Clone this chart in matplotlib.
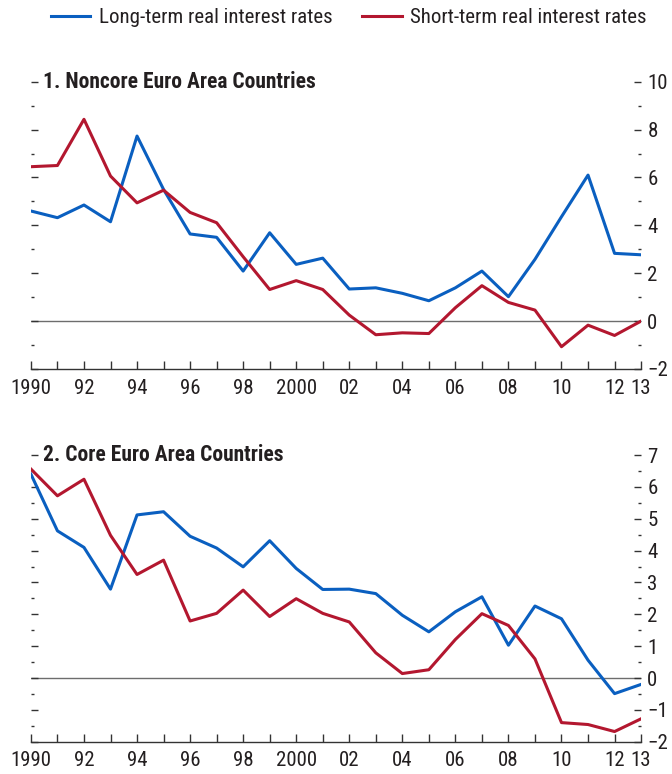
import matplotlib
matplotlib.use("Agg")
import matplotlib.pyplot as plt
from matplotlib.ticker import MultipleLocator, FixedLocator
from matplotlib.lines import Line2D

plt.rcParams['font.family'] = ['Roboto Condensed', 'Archivo Narrow', 'DejaVu Sans']
plt.rcParams['axes.unicode_minus'] = True

years = list(range(1990, 2014))
year_labels = ['1990', '', '92', '', '94', '', '96', '', '98', '', '2000', '',
               '02', '', '04', '', '06', '', '08', '', '10', '', '12', '13']

# Panel 1: Noncore euro area countries
noncore_long = [4.60, 4.32, 4.85, 4.15, 7.73, 5.50, 3.64, 3.50, 2.09, 3.69, 2.37, 2.63,
                1.34, 1.39, 1.16, 0.85, 1.39, 2.09, 1.02, 2.58, 4.36, 6.10, 2.83, 2.77]
noncore_short = [6.45, 6.50, 8.43, 6.06, 4.94, 5.47, 4.54, 4.11, 2.69, 1.32, 1.69, 1.32,
                 0.25, -0.57, -0.49, -0.52, 0.56, 1.48, 0.78, 0.46, -1.07, -0.17, -0.60, 0.00]

# Panel 2: Core euro area countries
core_long = [6.40, 4.62, 4.10, 2.79, 5.12, 5.22, 4.45, 4.08, 3.49, 4.31, 3.44, 2.78,
             2.79, 2.65, 1.97, 1.45, 2.08, 2.55, 1.03, 2.26, 1.86, 0.56, -0.49, -0.20]
core_short = [6.56, 5.72, 6.24, 4.48, 3.25, 3.70, 1.79, 2.03, 2.76, 1.93, 2.49, 2.03,
              1.76, 0.79, 0.14, 0.26, 1.21, 2.02, 1.65, 0.60, -1.40, -1.46, -1.68, -1.28]

BLUE = '#0a5fc0'
RED = '#b3172f'
TXT = '#231f20'

fig = plt.figure(figsize=(6.72, 7.74), dpi=100)
ax1 = fig.add_axes([0.046, 0.5233, 0.908, 0.3711])
ax2 = fig.add_axes([0.046, 0.0417, 0.908, 0.3704])


def style_panel(ax, title, ymin, ymax, major, minor):
    ax.axhline(0, color='#6d6d6d', lw=1.0, zorder=1)
    ax.set_xlim(1990, 2013)
    ax.set_ylim(ymin, ymax)
    for s in ['top', 'left', 'right']:
        ax.spines[s].set_visible(False)
    ax.spines['bottom'].set_color('#333333')
    ax.spines['bottom'].set_linewidth(1.0)
    ax.xaxis.set_major_locator(FixedLocator(years))
    ax.set_xticklabels(year_labels)
    ax.yaxis.set_major_locator(MultipleLocator(major))
    ax.yaxis.set_minor_locator(MultipleLocator(minor))
    ax.tick_params(axis='x', direction='in', length=5.5, width=1.0, color='#333333',
                   pad=7, labelsize=15, labelcolor=TXT)
    ax.tick_params(axis='y', which='major', direction='in', length=5, width=1.0,
                   color='#333333', left=True, right=True, labelleft=False,
                   labelright=True, pad=4.5, labelsize=15, labelcolor=TXT)
    ax.tick_params(axis='y', which='minor', direction='in', length=2, width=1.0,
                   color='#333333', left=True, right=True)
    ax.text(0.02, 1.0, title, transform=ax.transAxes, ha='left', va='center',
            fontsize=15.5, fontweight='bold', color=TXT)


ax1.plot(years, noncore_long, color=BLUE, lw=2.2, zorder=3)
ax1.plot(years, noncore_short, color=RED, lw=2.2, zorder=3)
style_panel(ax1, '1. Noncore Euro Area Countries', -2, 10, 2, 1)

ax2.plot(years, core_long, color=BLUE, lw=2.2, zorder=3)
ax2.plot(years, core_short, color=RED, lw=2.2, zorder=3)
style_panel(ax2, '2. Core Euro Area Countries', -2, 7, 1, 0.5)

handles = [Line2D([], [], color=BLUE, lw=2.2), Line2D([], [], color=RED, lw=2.2)]
fig.legend(handles, ['Long-term real interest rates', 'Short-term real interest rates'],
           loc='center', bbox_to_anchor=(0.519, 0.977), ncol=2, frameon=False,
           fontsize=15, handlelength=1.9, handletextpad=0.4, columnspacing=1.45,
           labelcolor=TXT)

fig.savefig('out.png', dpi=100)
